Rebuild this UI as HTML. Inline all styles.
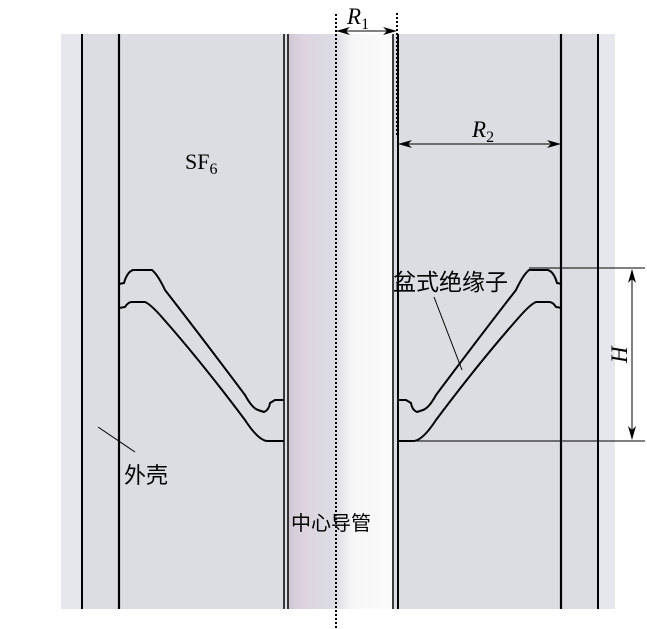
<!DOCTYPE html>
<html><head><meta charset="utf-8"><style>
html,body{margin:0;padding:0;background:#fff;}
svg{display:block;}
text{font-family:"Liberation Serif","Noto Serif CJK SC",serif;}
.cj{font-family:"Liberation Sans","Noto Sans CJK SC",sans-serif;}
</style></head><body>
<svg width="647" height="629" viewBox="0 0 647 629" xmlns="http://www.w3.org/2000/svg">
<defs>
<linearGradient id="cond" x1="0" x2="1" y1="0" y2="0">
<stop offset="0" stop-color="#cfc8d4"/>
<stop offset="0.15" stop-color="#ddd4e0"/>
<stop offset="0.45" stop-color="#dcdce2"/>
<stop offset="0.6" stop-color="#f6f6f8"/>
<stop offset="1" stop-color="#fbfbfb"/>
</linearGradient>
<marker id="ar" markerWidth="14" markerHeight="8" refX="13" refY="4" orient="auto" markerUnits="userSpaceOnUse">
<path d="M0,0 L14,4 L0,8 L4,4 Z" fill="#000"/>
</marker>
</defs>
<rect x="61" y="34" width="554" height="575" fill="#dcdde2"/>
<rect x="61" y="34" width="21" height="575" fill="#e6e7ec"/>
<rect x="598" y="34" width="17" height="575" fill="#e6e7ec"/>
<rect x="288" y="34" width="106" height="575" fill="url(#cond)"/>
<g stroke="#000" fill="none">
<line x1="82" y1="34" x2="82" y2="609" stroke-width="2"/>
<line x1="119" y1="34" x2="119" y2="609" stroke-width="2.2"/>
<line x1="284" y1="34" x2="284" y2="609" stroke-width="1.5"/>
<line x1="288" y1="34" x2="288" y2="609" stroke-width="1.5"/>
<line x1="393" y1="34" x2="393" y2="609" stroke-width="1.5"/>
<line x1="398" y1="34" x2="398" y2="609" stroke-width="2"/>
<line x1="561" y1="34" x2="561" y2="609" stroke-width="2.2"/>
<line x1="598" y1="34" x2="598" y2="609" stroke-width="2"/>
<path d="M119,284 L124,283 Q127,272 133,270 L152,270 Q158,275 165,290 Q200,335 245,395 Q252,408 258,410 L264,412 Q269,410 270,403 L275,400 L284,400" stroke-width="2"/>
<path d="M119,308 L125,307 Q128,302 132,302 L145,302 Q150,304 160,315 Q200,360 245,420 Q258,440 267,441 L284,441" stroke-width="2"/>
<path d="M562,284 L557,283 Q554,272 548,270 L529,270 Q523,275 516,290 Q481,335 436,395 Q429,408 423,410 L417,412 Q412,410 411,403 L406,400 L398,400" stroke-width="2"/>
<path d="M562,308 L556,307 Q553,302 549,302 L536,302 Q531,304 521,315 Q481,360 436,420 Q423,440 414,441 L398,441" stroke-width="2"/>
<line x1="529" y1="268" x2="645" y2="268" stroke-width="1"/>
<line x1="414" y1="441" x2="645" y2="441" stroke-width="1"/>
<line x1="632" y1="355" x2="632" y2="439" stroke-width="1" marker-end="url(#ar)"/>
<line x1="632" y1="355" x2="632" y2="270" stroke-width="1" marker-end="url(#ar)"/>
<line x1="480" y1="144" x2="560" y2="144" stroke-width="1" marker-end="url(#ar)"/>
<line x1="480" y1="144" x2="399" y2="144" stroke-width="1" marker-end="url(#ar)"/>
<line x1="366" y1="31" x2="396" y2="31" stroke-width="1" marker-end="url(#ar)"/>
<line x1="366" y1="31" x2="337" y2="31" stroke-width="1" marker-end="url(#ar)"/>
<line x1="336" y1="14" x2="336" y2="629" stroke-width="2" stroke-dasharray="2,2"/>
<line x1="397" y1="13" x2="397" y2="135" stroke-width="2" stroke-dasharray="2,2"/>
<line x1="434" y1="297" x2="462" y2="370" stroke-width="1"/>
<line x1="98" y1="427" x2="135" y2="452" stroke-width="1"/>
</g>
<text x="347" y="24" font-size="23" font-style="italic">R<tspan font-size="16" font-style="normal" dy="5">1</tspan></text>
<text x="472" y="137" font-size="23" font-style="italic">R<tspan font-size="16" font-style="normal" dy="5">2</tspan></text>
<text x="0" y="0" font-size="23" font-style="italic" transform="translate(627,363) rotate(-90)">H</text>
<text x="185" y="169" font-size="22">SF<tspan font-size="16" dy="5">6</tspan></text>
<text class="cj" x="393" y="290" font-size="23">盆式绝缘子</text>
<text class="cj" x="124" y="483" font-size="22">外壳</text>
<text class="cj" x="291" y="530" font-size="20">中心导管</text>
</svg>
</body></html>
